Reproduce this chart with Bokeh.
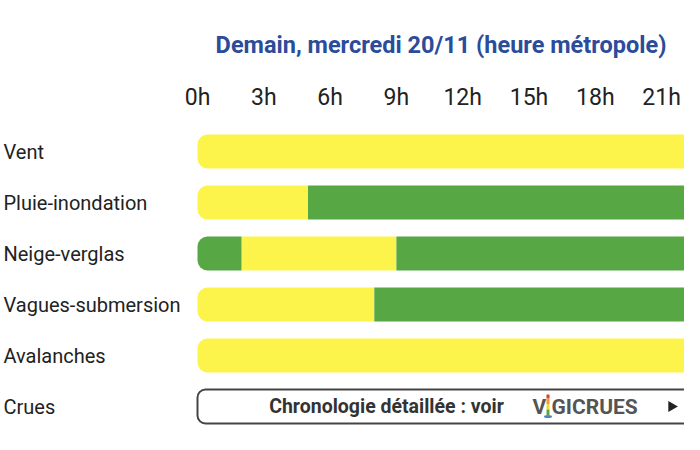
from bokeh.plotting import figure
from bokeh.models import Range1d, ColumnDataSource
from bokeh.core.properties import value
from bokeh.embed import file_html
from bokeh.resources import INLINE

# ---------------- data ----------------
title_text = "Demain, mercredi 20/11 (heure métropole)"
categories = ["Vent", "Pluie-inondation", "Neige-verglas",
              "Vagues-submersion", "Avalanches", "Crues"]
hours = [0, 3, 6, 9, 12, 15, 18, 21]
hour_labels = ["0h", "3h", "6h", "9h", "12h", "15h", "18h", "21h"]

seg_category = ["Vent",
                "Pluie-inondation", "Pluie-inondation",
                "Neige-verglas", "Neige-verglas", "Neige-verglas",
                "Vagues-submersion", "Vagues-submersion",
                "Avalanches"]
seg_start = [0, 0, 5, 0, 2, 9, 0, 8, 0]
seg_end = [24, 5, 24, 2, 9, 24, 8, 24, 24]
seg_level = ["jaune", "jaune", "vert", "vert", "jaune", "vert", "jaune", "vert", "jaune"]

crues_text = "Chronologie détaillée : voir"

# ---------------- styles ----------------
level_colors = {"jaune": "#fcf34b", "vert": "#58a745"}
FONT = "Roboto"
W, H = 684, 434
PX_PER_HOUR = 22.1
X0_PX = 197.0            # pixel x of 0h
ROW0_PX = 151.0          # pixel y of first row centre
ROW_PX = 51.0

def hx(px):               # pixel -> hours
    return (px - X0_PX) / PX_PER_HOUR

def ry(py):               # pixel -> row units
    return (py - ROW0_PX) / ROW_PX

p = figure(width=W, height=H, output_backend="svg", toolbar_location=None,
           x_range=Range1d(hx(0), hx(W)),
           y_range=Range1d(ry(H), ry(0)),
           min_border=0, outline_line_color=None)
p.axis.visible = False
p.grid.visible = False
p.background_fill_color = "white"
p.border_fill_color = "white"

row_of = {c: i for i, c in enumerate(categories)}
bar_h = 34.0 / ROW_PX

first = [i for i, s in enumerate(seg_start) if s == 0]
rest = [i for i, s in enumerate(seg_start) if s != 0]

def src(idx):
    return ColumnDataSource(dict(
        left=[seg_start[i] for i in idx],
        right=[seg_end[i] for i in idx],
        top=[row_of[seg_category[i]] - bar_h / 2 for i in idx],
        bottom=[row_of[seg_category[i]] + bar_h / 2 for i in idx],
        color=[level_colors[seg_level[i]] for i in idx]))

p.quad(left="left", right="right", top="top", bottom="bottom", source=src(first),
       fill_color="color", line_color=None, border_radius=(10, 0, 0, 10))
p.quad(left="left", right="right", top="top", bottom="bottom", source=src(rest),
       fill_color="color", line_color=None)

# Crues row : outlined box
ci = row_of["Crues"]
p.quad(left=[0], right=[24], top=[ci - bar_h / 2], bottom=[ci + bar_h / 2],
       fill_color="white", line_color="#454545", line_width=2, border_radius=8)
p.text(x=[hx(386)], y=[ci], text=[crues_text], text_font=value(FONT),
       text_font_style="bold", text_font_size="19.5px", text_color="#333333",
       text_align="center", text_baseline="middle")
# VIGICRUES logo
p.text(x=[hx(532)], y=[ci], text=["V"], text_font=value(FONT), text_font_style="bold",
       text_font_size="21px", text_color="#555555", text_align="left", text_baseline="middle")
p.text(x=[hx(551)], y=[ci], text=["GICRUES"], text_font=value(FONT), text_font_style="bold",
       text_font_size="21px", text_color="#555555", text_align="left", text_baseline="middle")
pole_cols = ["#e03a2f", "#f39a2b", "#f2d936", "#5aa646"]
pole_tops = [394, 398, 404, 409]
pole_bots = [398, 404, 409, 415]
p.quad(left=[hx(546)] * 4, right=[hx(549)] * 4,
       top=[ry(t) for t in pole_tops], bottom=[ry(b) for b in pole_bots],
       fill_color=pole_cols, line_color=None)
p.ellipse(x=[hx(547.5)], y=[ry(416)], width=[8 / PX_PER_HOUR], height=[3 / ROW_PX],
          fill_color="#4a86c5", line_color=None)
p.scatter(x=[hx(671)], y=[ci], marker="triangle", size=11, angle=-1.5708,
          fill_color="#222222", line_color=None)

# row labels
p.text(x=[hx(3)] * len(categories), y=list(range(len(categories))), text=categories,
       text_font=value(FONT), text_font_size="20px", text_color="#222222",
       text_align="left", text_baseline="middle")

# hour labels
p.text(x=hours, y=[ry(97)] * len(hours), text=hour_labels, text_font=value(FONT),
       text_font_size="23px", text_color="#222222", text_align="center",
       text_baseline="middle")

# title
p.text(x=[hx(440.5)], y=[ry(44)], text=[title_text], text_font=value(FONT),
       text_font_style="bold", text_font_size="23.5px", text_color="#2b4c9b",
       text_align="center", text_baseline="middle")

open("out.html", "w").write(file_html(p, INLINE))
